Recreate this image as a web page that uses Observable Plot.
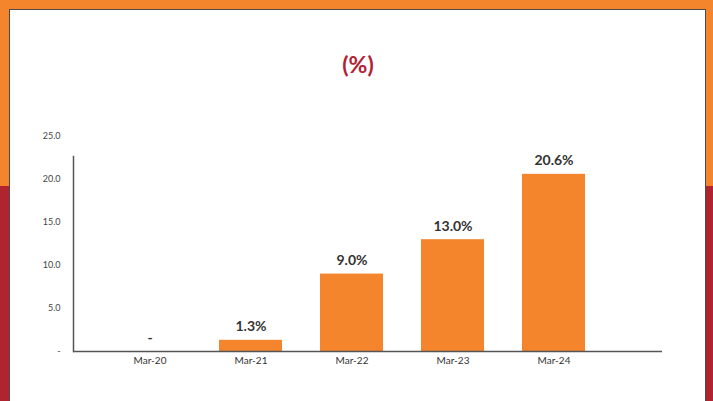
<!DOCTYPE html>
<html>
<head>
<meta charset="utf-8">
<script src="https://cdn.jsdelivr.net/npm/d3@7"></script>
<script src="https://cdn.jsdelivr.net/npm/@observablehq/plot@0.6"></script>
<style>
  html, body { margin: 0; padding: 0; }
  body {
    width: 713px; height: 401px; overflow: hidden; position: relative;
    background: linear-gradient(to bottom, #f4852c 0px, #f4852c 186px, #b0242f 186px, #b0242f 401px);
    font-family: Lato, "Open Sans", sans-serif;
  }
  #panel {
    position: absolute; left: 9px; top: 9px; width: 697px; height: 400px;
    background: #fff; border: 1px solid #4a4a4a; box-sizing: border-box;
  }
  #title {
    position: absolute; left: 0; top: 50px; width: 716px; text-align: center;
    font-size: 23px; font-weight: bold; color: #b22234;
  }
  #chart { position: absolute; left: 0; top: 0; }
</style>
</head>
<body>
<div id="panel"></div>
<div id="title">(%)</div>
<div id="chart"></div>
<script>
const categories = ["Mar-20", "Mar-21", "Mar-22", "Mar-23", "Mar-24"];
const values = [0, 1.3, 9.0, 13.0, 20.6];
const valueLabels = ["-", "1.3%", "9.0%", "13.0%", "20.6%"];
const yTicks = [0, 5, 10, 15, 20, 25];

const data = categories.map((c, i) => ({cat: c, v: values[i], label: valueLabels[i]}));

const plot = Plot.plot({
  width: 713,
  height: 401,
  marginLeft: 73,
  marginRight: 51,
  marginTop: 156,
  marginBottom: 50,
  style: {background: "transparent", fontFamily: "Lato, 'Open Sans', sans-serif", overflow: "visible"},
  x: {domain: categories, range: [116, 587], paddingInner: 0.375, paddingOuter: 0, label: null},
  y: {domain: [0, 25], range: [351, 136], label: null},
  marks: [
    Plot.barY(data, {x: "cat", y: "v", fill: "#f4852c"}),
    Plot.frame({anchor: "left", stroke: "#555", strokeWidth: 1.5}),
    Plot.ruleY([0], {stroke: "#555", strokeWidth: 1.5}),
    Plot.axisY({ticks: yTicks, tickSize: 0, tickPadding: 13, tickFormat: d => d === 0 ? "-" : d.toFixed(1), fontSize: 9, fill: "#444"}),
    Plot.axisX({tickSize: 0, tickPadding: 5, fontSize: 10, fill: "#333"}),
    Plot.text(data, {x: "cat", y: "v", text: "label", dy: -9, lineAnchor: "bottom", fontSize: 14, fontWeight: "bold", fill: "#333"})
  ]
});
document.getElementById("chart").appendChild(plot);
</script>
</body>
</html>
